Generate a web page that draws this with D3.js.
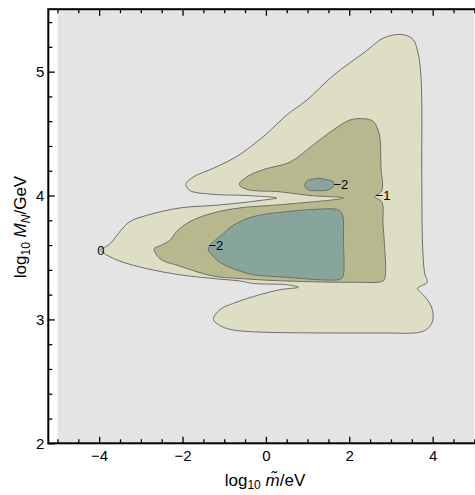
<!DOCTYPE html>
<html><head><meta charset="utf-8">
<script src="https://cdn.jsdelivr.net/npm/d3@7"></script>
<style>body{margin:0;background:#fff} svg{display:block}</style>
</head><body>
<svg id="c" width="475" height="495"></svg>
<script>
// Contour levels and their fills
const levelValues = [0, -1, -2];
const levelColors = ["#dedec5", "#b8b88f", "#87a59b"];
const backgroundColor = "#e4e4e4";

// Contour polygons, in data coordinates [log10 m~/eV, log10 M_N/GeV]
const contour0 = [
  [-1.92,4.09],[-1.74,4.15],[-1.26,4.22],[-0.78,4.30],[-0.46,4.37],[0.02,4.50],[0.50,4.65],[0.98,4.77],
  [1.62,4.97],[2.42,5.17],[2.81,5.27],[3.26,5.30],[3.53,5.26],[3.65,5.15],[3.71,5.01],[3.74,4.75],
  [3.74,4.45],[3.74,4.13],[3.76,3.59],[3.81,3.37],[3.87,3.30],[3.64,3.25],[3.77,3.20],[3.93,3.13],
  [4.01,3.05],[3.98,2.97],[3.81,2.91],[3.53,2.89],[2.98,2.89],[-0.30,2.90],[-0.86,2.92],[-1.10,2.95],
  [-1.26,3.00],[-1.10,3.08],[-0.78,3.13],[-0.14,3.20],[0.34,3.24],[0.78,3.26],[0.50,3.28],[-0.30,3.29],
  [-0.62,3.31],[-1.27,3.33],[-2.06,3.36],[-2.86,3.41],[-3.50,3.47],[-3.82,3.52],[-3.97,3.56],[-3.88,3.58],
  [-3.74,3.61],[-3.50,3.71],[-3.26,3.79],[-2.86,3.84],[-2.06,3.90],[-1.26,3.92],[-0.62,3.94],[-0.14,3.96],
  [0.26,3.98],[-0.46,4.00],[-1.27,4.01],[-1.82,4.04]
];
const contour1 = [
  [-0.64,4.09],[-0.46,4.15],[-0.06,4.21],[0.58,4.27],[1.14,4.41],[1.62,4.53],[2.02,4.61],[2.34,4.62],
  [2.57,4.60],[2.69,4.53],[2.74,4.45],[2.76,4.23],[2.78,4.04],[2.62,3.99],[2.78,3.95],[2.81,3.78],
  [2.86,3.34],[2.81,3.31],[2.10,3.30],[0.50,3.31],[-0.62,3.33],[-1.27,3.35],[-2.06,3.43],[-2.54,3.49],
  [-2.68,3.57],[-2.50,3.60],[-2.30,3.64],[-2.14,3.71],[-1.82,3.79],[-1.26,3.86],[-0.62,3.90],[0.50,3.93],
  [1.86,3.98],[1.06,4.00],[0.34,4.03],[-0.46,4.05]
];
const contour2a = [
  [-1.34,3.60],[-1.10,3.67],[-0.78,3.76],[-0.30,3.83],[0.50,3.87],[1.30,3.89],[1.68,3.89],[1.80,3.87],
  [1.85,3.83],[1.86,3.64],[1.86,3.36],[1.81,3.33],[1.73,3.32],[1.30,3.32],[0.50,3.34],[0.02,3.35],
  [-0.30,3.36],[-0.62,3.39],[-1.10,3.46],[-1.34,3.54],[-1.38,3.56]
];
const contour2b = [
  [0.93,4.08],[0.99,4.12],[1.11,4.13],[1.25,4.14],[1.42,4.13],[1.56,4.12],[1.64,4.10],[1.58,4.06],
  [1.42,4.04],[1.25,4.04],[1.08,4.04],[0.96,4.06]
];

// Contour labels
const labelTexts = ["0", "\u22122", "\u22122", "\u22121"];
const labelPos = [[-3.96,3.56],[-1.20,3.60],[1.80,4.09],[2.81,4.00]];

// Axis ticks
const xMajor = [-4,-2,0,2,4];
const xMinor = [-5,-4.5,-3.5,-3,-2.5,-1.5,-1,-0.5,0.5,1,1.5,2.5,3,3.5,4.5,5];
const yMajor = [2,3,4,5];
const yMinor = [2.2,2.4,2.6,2.8,3.2,3.4,3.6,3.8,4.2,4.4,4.6,4.8,5.2,5.4];
const xDataRange = [-5, 5];
const yDataRange = [2, 5.5];

const svg = d3.select("#c");
const font = "'Liberation Sans', Arial, sans-serif";
const x = d3.scaleLinear().domain([-5.22, 5.22]).range([48.3, 483.5]);
const y = d3.scaleLinear().domain([2, 5.504]).range([443.3, 9.2]);

// background region
svg.append("rect")
  .attr("x", x(xDataRange[0])).attr("y", y(yDataRange[1]))
  .attr("width", x(xDataRange[1]) - x(xDataRange[0]))
  .attr("height", y(yDataRange[0]) - y(yDataRange[1]))
  .attr("fill", backgroundColor);

const line = d3.line().x(d => x(d[0])).y(d => y(d[1])).curve(d3.curveCatmullRomClosed.alpha(0.5));
const shapes = [
  {pts: contour0, lvl: 0},
  {pts: contour1, lvl: 1},
  {pts: contour2a, lvl: 2},
  {pts: contour2b, lvl: 2}
];
svg.append("g").selectAll("path").data(shapes).join("path")
  .attr("d", d => line(d.pts))
  .attr("fill", d => levelColors[d.lvl])
  .attr("stroke", "#6e6e6e")
  .attr("stroke-width", 1);

svg.append("g").selectAll("text").data(labelTexts).join("text")
  .attr("x", (d,i) => x(labelPos[i][0]))
  .attr("y", (d,i) => y(labelPos[i][1]))
  .attr("text-anchor", "middle").attr("dy", "0.35em")
  .attr("font-family", font).attr("font-size", 13).attr("fill", "#000")
  .text(d => d);

// axes
function styleAxis(g){
  g.select(".domain").remove();
  g.selectAll(".tick line").attr("stroke", "#000").attr("stroke-width", 1.3);
  g.selectAll(".tick text").attr("font-family", font).attr("font-size", 15).attr("fill", "#000");
}
const fmt = d => d < 0 ? "\u2212" + Math.abs(d) : String(d);
svg.append("g").attr("transform", `translate(0,${y(2)})`)
  .call(d3.axisBottom(x).tickValues(xMajor).tickSizeInner(-6.5).tickSizeOuter(0).tickPadding(7).tickFormat(fmt)).call(styleAxis);
svg.append("g").attr("transform", `translate(0,${y(2)})`)
  .call(d3.axisBottom(x).tickValues(xMinor).tickSizeInner(-4).tickSizeOuter(0).tickFormat("")).call(styleAxis);
svg.append("g").attr("transform", `translate(0,${y(5.504)})`)
  .call(d3.axisTop(x).tickValues(xMajor).tickSizeInner(-6.5).tickSizeOuter(0).tickFormat("")).call(styleAxis);
svg.append("g").attr("transform", `translate(0,${y(5.504)})`)
  .call(d3.axisTop(x).tickValues(xMinor).tickSizeInner(-4).tickSizeOuter(0).tickFormat("")).call(styleAxis);
svg.append("g").attr("transform", `translate(${x(-5.22)},0)`)
  .call(d3.axisLeft(y).tickValues(yMajor).tickSizeInner(-6.5).tickSizeOuter(0).tickPadding(4).tickFormat(fmt)).call(styleAxis);
svg.append("g").attr("transform", `translate(${x(-5.22)},0)`)
  .call(d3.axisLeft(y).tickValues(yMinor).tickSizeInner(-4).tickSizeOuter(0).tickFormat("")).call(styleAxis);

// frame
svg.append("rect")
  .attr("x", x(-5.22)).attr("y", y(5.504))
  .attr("width", x(5.22) - x(-5.22)).attr("height", y(2) - y(5.504))
  .attr("fill", "none").attr("stroke", "#000").attr("stroke-width", 2);

// axis titles
const xt = svg.append("text").attr("x", 265).attr("y", 486)
  .attr("text-anchor", "middle").attr("font-family", font).attr("font-size", 17).attr("fill", "#000");
xt.append("tspan").text("log");
xt.append("tspan").attr("dy", 3).attr("font-size", 12).text("10");
xt.append("tspan").attr("dy", -3).text(" ");
xt.append("tspan").attr("font-style", "italic").text("m\u0303");
xt.append("tspan").text("/eV");

const yt = svg.append("text").attr("transform", "translate(26,227) rotate(-90)")
  .attr("text-anchor", "middle").attr("font-family", font).attr("font-size", 17).attr("fill", "#000");
yt.append("tspan").text("log");
yt.append("tspan").attr("dy", 4).attr("font-size", 12).text("10");
yt.append("tspan").attr("dy", -4).text(" ");
yt.append("tspan").attr("font-style", "italic").text("M");
yt.append("tspan").attr("dy", 4).attr("font-size", 12).attr("font-style", "italic").text("N");
yt.append("tspan").attr("dy", -4).text("/GeV");
</script>
</body></html>
